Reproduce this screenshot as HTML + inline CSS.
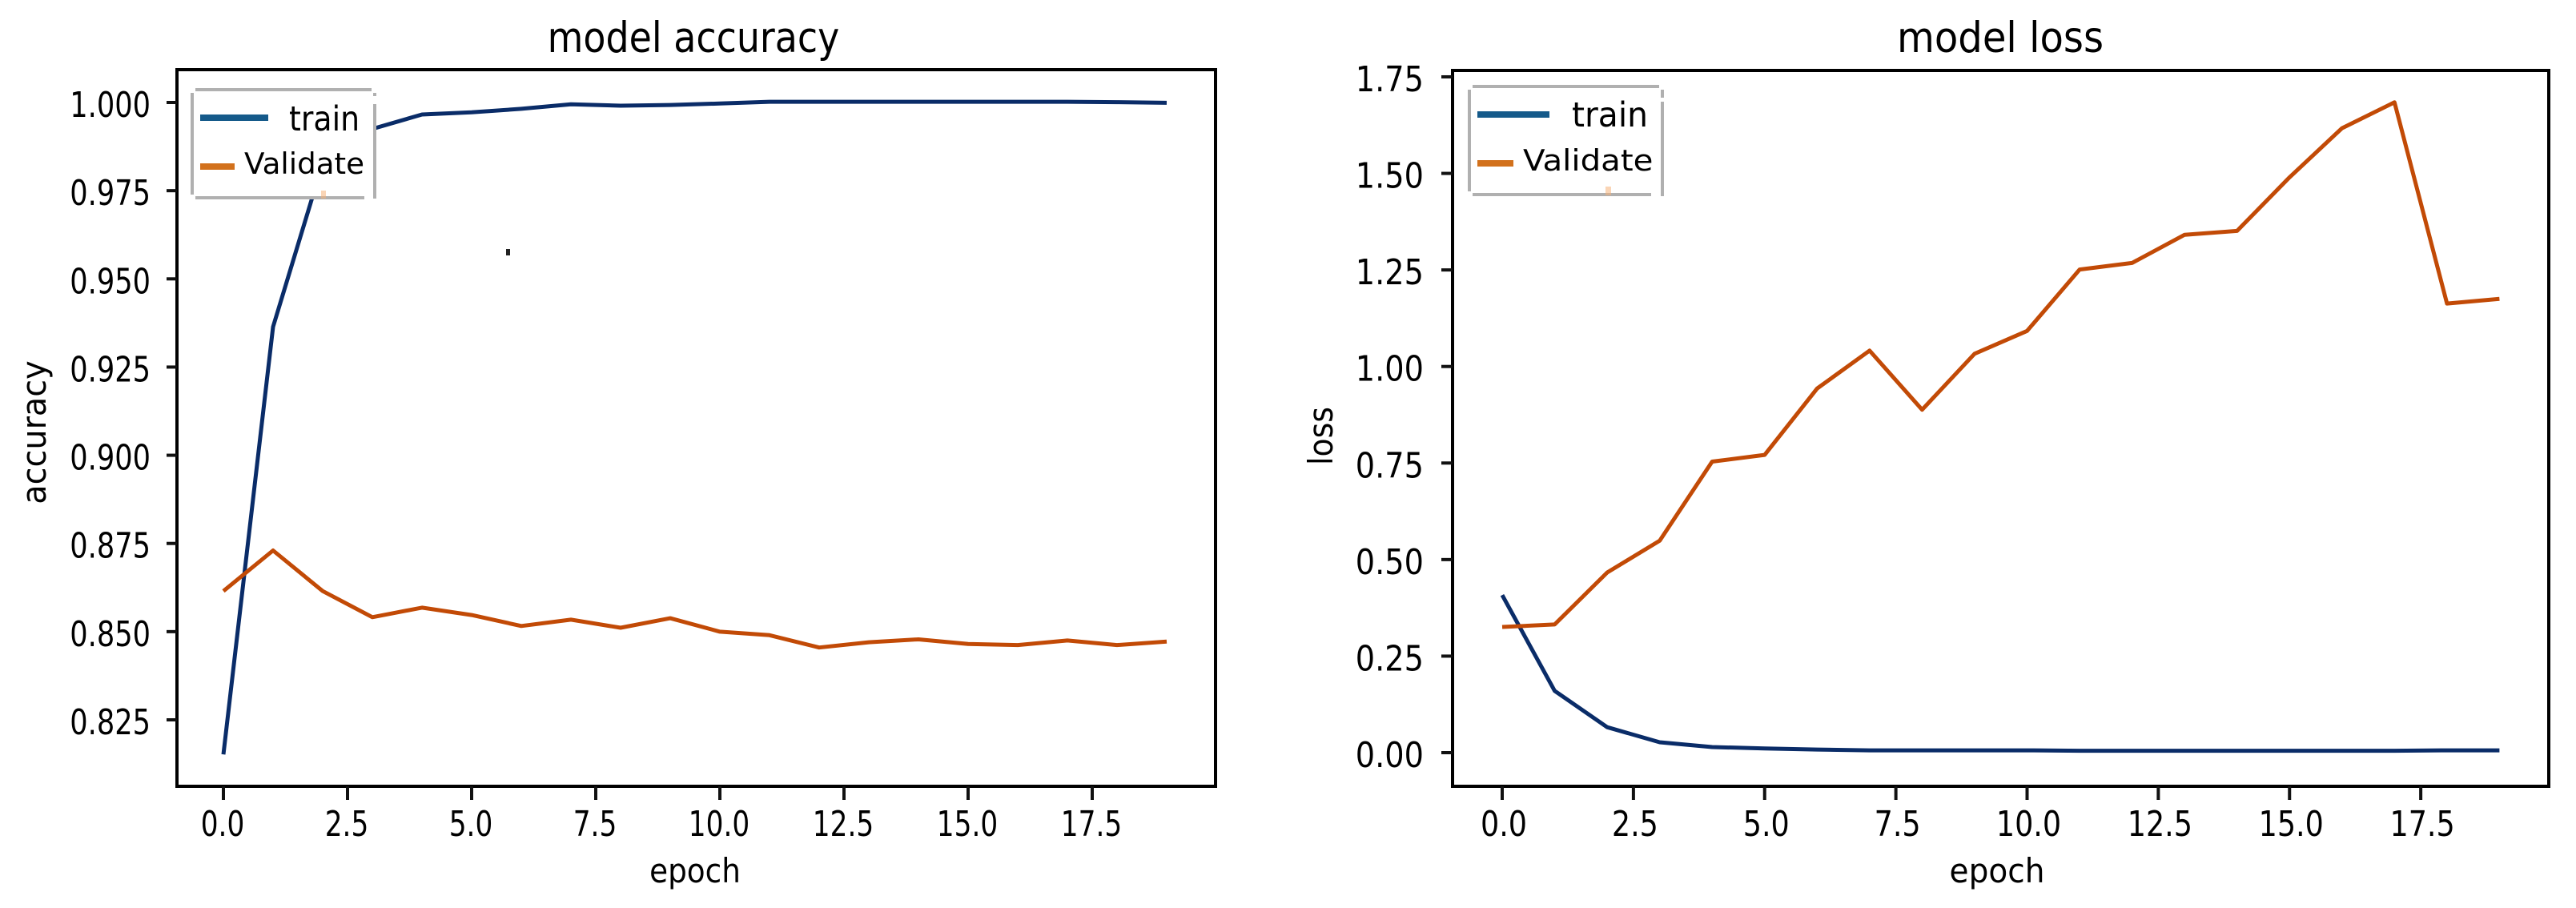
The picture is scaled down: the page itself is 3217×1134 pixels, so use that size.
<!DOCTYPE html>
<html lang="en">
<head>
<meta charset="utf-8">
<title>Model accuracy and loss</title>
<style>
html,body{margin:0;padding:0;background:#fff;}
svg{display:block;}
text{font-family:"DejaVu Sans","Liberation Sans",sans-serif;fill:#000;}
</style>
</head>
<body>
<svg id="figure" xmlns="http://www.w3.org/2000/svg" width="3217" height="1134" viewBox="0 0 3217 1134">
  <rect x="0" y="0" width="3217" height="1134" fill="#fff"/>
  <g id="acc-panel"></g>
  <g id="loss-panel"></g>

  <rect x="632" y="311" width="5" height="8" fill="#222"/>

  <text transform="translate(866,65) scale(0.873,1)" font-size="52.6" text-anchor="middle">model accuracy</text>
  <text transform="translate(2498,65) scale(0.915,1)" font-size="52.6" text-anchor="middle">model loss</text>
  <text transform="translate(868,1102) scale(0.89,1)" font-size="42" text-anchor="middle">epoch</text>
  <text transform="translate(2494,1102) scale(0.93,1)" font-size="42" text-anchor="middle">epoch</text>
  <text transform="translate(57,540) rotate(-90) scale(0.947,1)" font-size="42" text-anchor="middle">accuracy</text>
  <text transform="translate(1664,544.5) rotate(-90) scale(0.9,1)" font-size="42" text-anchor="middle">loss</text>

  <g>
    <rect x="240" y="112" width="228" height="135" fill="#fff"/>
    <path d="M240 116V243M244 112H464M468 116V120M468 130V248M244 247H455" fill="none" stroke="#b0b0b0" stroke-width="4"/>
    <rect x="401" y="238" width="6" height="10" fill="#f5b27a" opacity="0.55"/>
    <rect x="250" y="143" width="85" height="8" fill="#155a8a"/>
    <text transform="translate(361,163) scale(0.88,1)" font-size="43">train</text>
    <rect x="250" y="204" width="43" height="8" fill="#d2711c"/>
    <text transform="translate(305,217) scale(1.02,1)" font-size="36.5">Validate</text>
  </g>

  <g>
    <rect x="1835" y="108" width="241" height="135" fill="#fff"/>
    <path d="M1835 112V239M1839 108H2072M2076 112V122M2076 127V245M1839 243H2062" fill="none" stroke="#b0b0b0" stroke-width="4"/>
    <rect x="2005" y="233" width="7" height="11" fill="#f5b27a" opacity="0.55"/>
    <rect x="1845" y="139" width="90" height="8" fill="#155a8a"/>
    <text transform="translate(1963,158) scale(0.95,1)" font-size="43">train</text>
    <rect x="1845" y="200" width="45" height="8" fill="#d2711c"/>
    <text transform="translate(1902,213) scale(1.105,1)" font-size="36.5">Validate</text>
  </g>
</svg>
<script>
const epochs = [0,1,2,3,4,5,6,7,8,9,10,11,12,13,14,15,16,17,18,19];
const accuracyTrain = [0.8152,0.9364,0.9828,0.9925,0.9966,0.9972,0.9982,0.9995,0.9991,0.9993,0.9997,1.0002,1.0002,1.0002,1.0002,1.0002,1.0002,1.0002,1.0001,0.9999];
const accuracyValidate = [0.8615,0.8730,0.8615,0.8541,0.8568,0.8547,0.8516,0.8534,0.8511,0.8538,0.8500,0.8490,0.8455,0.8470,0.8478,0.8465,0.8462,0.8475,0.8462,0.8472];
const lossTrain = [0.408,0.160,0.066,0.027,0.0145,0.011,0.008,0.006,0.006,0.006,0.006,0.005,0.005,0.005,0.005,0.005,0.005,0.005,0.006,0.006];
const lossValidate = [0.3255,0.332,0.4665,0.549,0.7537,0.771,0.943,1.041,0.888,1.033,1.092,1.251,1.268,1.341,1.351,1.490,1.617,1.684,1.163,1.175];
const accuracyTickValues = [0.825,0.85,0.875,0.9,0.925,0.95,0.975,1.0];
const accuracyTickLabels = ['0.825','0.850','0.875','0.900','0.925','0.950','0.975','1.000'];
const lossTickValues = [0,0.25,0.5,0.75,1,1.25,1.5,1.75];
const lossTickLabels = ['0.00','0.25','0.50','0.75','1.00','1.25','1.50','1.75'];
const epochTickValues = [0,2.5,5,7.5,10,12.5,15,17.5];
const epochTickLabels = ['0.0','2.5','5.0','7.5','10.0','12.5','15.0','17.5'];

const NS = 'http://www.w3.org/2000/svg';

function accX(v){ return 279 + 62 * v; }
function accY(v){ return 128 + (1 - v) * 4405.7; }
function lossX(v){ return 1876 + 65.55 * v; }
function lossY(v){ return 940 - 482.3 * v; }

function drawLine(parent, name, xs, ys, xFn, yFn, color){
  const el = document.createElementNS(NS, 'polyline');
  
  
  el.setAttribute('points', xs.map((x, i) => xFn(x).toFixed(1) + ',' + yFn(ys[i]).toFixed(1)).join(' '));
  el.setAttribute('fill', 'none');
  el.setAttribute('stroke', color);
  el.setAttribute('stroke-width', '5');
  el.setAttribute('stroke-linejoin', 'round');
  parent.appendChild(el);
}

function drawTickMark(parent, name, x1, y1, x2, y2){
  const el = document.createElementNS(NS, 'line');
  
  
  el.setAttribute('x1', x1);
  el.setAttribute('y1', y1);
  el.setAttribute('x2', x2);
  el.setAttribute('y2', y2);
  el.setAttribute('stroke', '#111');
  el.setAttribute('stroke-width', '4');
  parent.appendChild(el);
}

function drawLabel(parent, name, str, x, y, sx, anchor){
  const el = document.createElementNS(NS, 'text');
  
  
  el.setAttribute('transform', 'translate(' + x + ',' + y + ') scale(' + sx + ',1)');
  el.setAttribute('font-size', '44');
  el.setAttribute('text-anchor', anchor);
  el.textContent = str;
  parent.appendChild(el);
}

function drawFrame(parent, name, left, top, right, bottom){
  const el = document.createElementNS(NS, 'rect');
  
  
  el.setAttribute('x', left);
  el.setAttribute('y', top);
  el.setAttribute('width', right - left);
  el.setAttribute('height', bottom - top);
  el.setAttribute('fill', 'none');
  el.setAttribute('stroke', '#000');
  el.setAttribute('stroke-width', '4');
  parent.appendChild(el);
}

const accPanel = document.getElementById('acc-panel');
const lossPanel = document.getElementById('loss-panel');

drawLine(accPanel, 'accuracy-train-line', epochs, accuracyTrain, accX, accY, '#0a2c68');
drawLine(accPanel, 'accuracy-validate-line', epochs, accuracyValidate, accX, accY, '#c24a06');
drawFrame(accPanel, 'accuracy-plot-frame', 221, 87, 1518, 982);
accuracyTickValues.forEach((v, i) => {
  drawTickMark(accPanel, 'accuracy-y-tick', 208, accY(v), 221, accY(v));
  drawLabel(accPanel, 'accuracy-y-tick-label', accuracyTickLabels[i], 188, accY(v) + 18, 0.80, 'end');
});
epochTickValues.forEach((v, i) => {
  drawTickMark(accPanel, 'accuracy-x-tick', accX(v), 982, accX(v), 999);
  drawLabel(accPanel, 'accuracy-x-tick-label', epochTickLabels[i], accX(v) - 1, 1044, 0.78, 'middle');
});

drawLine(lossPanel, 'loss-train-line', epochs, lossTrain, lossX, lossY, '#0a2c68');
drawLine(lossPanel, 'loss-validate-line', epochs, lossValidate, lossX, lossY, '#c24a06');
drawFrame(lossPanel, 'loss-plot-frame', 1814, 88, 3183, 982);
lossTickValues.forEach((v, i) => {
  drawTickMark(lossPanel, 'loss-y-tick', 1800, lossY(v), 1814, lossY(v));
  drawLabel(lossPanel, 'loss-y-tick-label', lossTickLabels[i], 1778, lossY(v) + 18, 0.87, 'end');
});
epochTickValues.forEach((v, i) => {
  drawTickMark(lossPanel, 'loss-x-tick', lossX(v), 982, lossX(v), 999);
  drawLabel(lossPanel, 'loss-x-tick-label', epochTickLabels[i], lossX(v) + 2, 1044, 0.83, 'middle');
});
</script>
</body>
</html>
